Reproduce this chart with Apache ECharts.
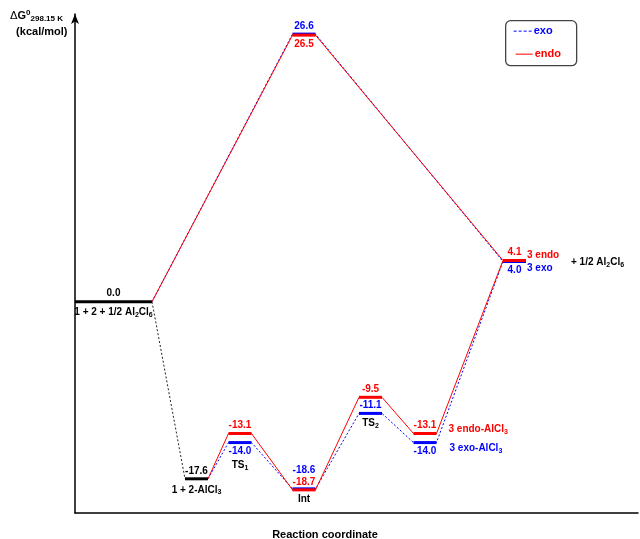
<!DOCTYPE html>
<html>
<head>
<meta charset="utf-8">
<script src="https://cdn.jsdelivr.net/npm/echarts@6/dist/echarts.min.js"></script>
<style>
  html, body { margin: 0; padding: 0; background: #ffffff; }
  #chart { width: 640px; height: 539px; }
</style>
</head>
<body>
<div id="chart"></div>
<script>
// Stationary points along the reaction coordinate (position of each level's centre)
const stageIds = ['reactants', 'complex', 'ts1', 'int', 'ts2', 'prodComplex', 'products', 'tsUncat'];
const stageX   = [7.7, 24.3, 33.0, 45.8, 59.1, 70.0, 87.9, 45.8];

// Relative free energies, kcal/mol
const sharedStages = ['reactants', 'complex'];
const sharedEnergy = [0.0, -17.6];

const uncatStages = ['reactants', 'tsUncat', 'products'];
const endoUncat   = [0.0, 26.5, 4.1];
const exoUncat    = [0.0, 26.6, 4.0];

const catStages = ['complex', 'ts1', 'int', 'ts2', 'prodComplex', 'products'];
const endoCat   = [-17.6, -13.1, -18.7, -9.5, -13.1, 4.1];
const exoCat    = [-17.6, -14.0, -18.6, -11.1, -14.0, 4.0];

// Species names ({s|..} marks a subscript)
const captionStages = ['reactants', 'complex', 'ts1', 'int', 'ts2'];
const captionText   = ['1 + 2 + 1/2 Al{s|2}Cl{s|6}', '1 + 2-AlCl{s|3}', 'TS{s|1}', 'Int', 'TS{s|2}'];
const endoNames = { prodComplex: '3 endo-AlCl{s|3}', products: '3 endo' };
const exoNames  = { prodComplex: '3 exo-AlCl{s|3}', products: '3 exo' };
const byproductText = '+ 1/2 Al{s|2}Cl{s|6}';
const keyNames = ['exo', 'endo'];

// ---- styling ----
const FONT = 'Liberation Sans, Arial, Helvetica, sans-serif';
const RED = '#ff0000', BLUE = '#0000ff', BLACK = '#000000';
const halfWidth = { reactants: 7.7, default: 2.3 };
const richSub = (size) => ({
  s: { fontSize: size - 3, fontWeight: 'bold', fontFamily: FONT, padding: [5, 0, 0, 0] }
});

// value label offsets (px from the bar; negative = above, positive = below)
const endoValueDy = { tsUncat: 4 };
const exoValueDy  = { tsUncat: -3, ts1: 4, int: -14, prodComplex: 4, products: 4 };
// name labels placed to the right of the bar
const endoNameOffset = { prodComplex: [12, -4], products: [1, -5] };
const exoNameOffset  = { prodComplex: [13, 6], products: [1, 7] };
// captions below the lowest bar of a stage
const captionDy = { reactants: 5, complex: 5, ts1: 17, int: 4, ts2: 4 };

const idx = (s) => stageIds.indexOf(s);
const hw = (s) => halfWidth[s] || halfWidth.default;

// Points of a free-energy profile: the connector runs from the end of one
// level to the start of the next.
function profile(stages, energies) {
  const pts = [];
  stages.forEach((s, i) => {
    const x = stageX[idx(s)];
    if (i > 0) pts.push([x - hw(s), energies[i]]);
    if (i < stages.length - 1) pts.push([x + hw(s), energies[i]]);
  });
  return pts;
}

function connector(name, color, type, stages, energies) {
  return {
    type: 'line', name, data: profile(stages, energies),
    symbol: 'none', smooth: false, silent: true, animation: false, z: 2,
    lineStyle: { color, width: 1, type },
    itemStyle: { color }
  };
}

function levelSeries(name, color, stages, energies, valueDy, names, nameOffset, extra) {
  return {
    type: 'custom', name: name + ' levels', silent: true, animation: false, z: 5,
    data: stages.map((s, i) => [stageX[idx(s)], energies[i], idx(s)]),
    renderItem(params, api) {
      const x = api.value(0), v = api.value(1), id = stageIds[api.value(2)];
      const p0 = api.coord([x - hw(id), v]);
      const p1 = api.coord([x + hw(id), v]);
      const dy = valueDy[id] !== undefined ? valueDy[id] : -3;
      const children = [
        { type: 'line', shape: { x1: p0[0], y1: p0[1], x2: p1[0], y2: p1[1] },
          style: { stroke: color, lineWidth: 3 } },
        { type: 'text', x: (p0[0] + p1[0]) / 2, y: p0[1] + dy,
          style: { text: v.toFixed(1), fill: color, fontSize: 10, fontWeight: 'bold',
                   fontFamily: FONT, align: 'center', verticalAlign: dy < 0 ? 'bottom' : 'top' } }
      ];
      if (names && names[id]) {
        const off = nameOffset[id];
        children.push({ type: 'text', x: p1[0] + off[0], y: p1[1] + off[1],
          style: { text: names[id], fill: color, fontSize: 10, fontWeight: 'bold',
                   fontFamily: FONT, align: 'left', verticalAlign: 'middle', rich: richSub(10) } });
      }
      if (extra) extra(id, p0, p1, children);
      return { type: 'group', children };
    }
  };
}

// Captions sit under the lowest level of their stage
const allLevels = {};
[[sharedStages, sharedEnergy], [uncatStages, endoUncat], [uncatStages, exoUncat],
 [catStages, endoCat], [catStages, exoCat]].forEach(([st, en]) => {
  st.forEach((s, i) => {
    allLevels[s] = allLevels[s] === undefined ? en[i] : Math.min(allLevels[s], en[i]);
  });
});

const captionSeries = {
  type: 'custom', name: 'captions', silent: true, animation: false, z: 6,
  data: captionStages.map((s, i) => [stageX[idx(s)], allLevels[s], i]),
  renderItem(params, api) {
    const i = api.value(2);
    const s = captionStages[i];
    const p = api.coord([api.value(0), api.value(1)]);
    return {
      type: 'text', x: p[0], y: p[1] + captionDy[s],
      style: { text: captionText[i], fill: BLACK, fontSize: 10, fontWeight: 'bold',
               fontFamily: FONT, align: 'center', verticalAlign: 'top', rich: richSub(10) }
    };
  }
};

// Key box in the top-right corner
const keyGraphic = {
  type: 'group', left: 505, top: 20,
  children: [
    { type: 'rect', shape: { x: 0, y: 0, width: 71, height: 45, r: 5 },
      style: { fill: '#ffffff', stroke: '#444444', lineWidth: 1.3 } },
    { type: 'line', shape: { x1: 8, y1: 10.5, x2: 27, y2: 10.5 },
      style: { stroke: BLUE, lineWidth: 1, lineDash: [3, 2] } },
    { type: 'text', x: 28, y: 10,
      style: { text: keyNames[0], fill: BLUE, fontSize: 11, fontWeight: 'bold', fontFamily: FONT,
               verticalAlign: 'middle' } },
    { type: 'line', shape: { x1: 10, y1: 33.5, x2: 27, y2: 33.5 },
      style: { stroke: RED, lineWidth: 1 } },
    { type: 'text', x: 29, y: 33,
      style: { text: keyNames[1], fill: RED, fontSize: 11, fontWeight: 'bold', fontFamily: FONT,
               verticalAlign: 'middle' } }
  ]
};

const chart = echarts.init(document.getElementById('chart'), null, { renderer: 'canvas' });

chart.setOption({
  backgroundColor: '#ffffff',
  animation: false,
  grid: { left: 75, right: 2, top: 14, bottom: 26 },
  xAxis: {
    type: 'value', min: 0, max: 112.6,
    axisLine: { show: true, onZero: false, lineStyle: { color: BLACK, width: 1.5 } },
    axisTick: { show: false }, axisLabel: { show: false }, splitLine: { show: false }
  },
  yAxis: {
    type: 'value', min: -21, max: 28.6,
    axisLine: { show: true, onZero: false, symbol: ['none', 'arrow'], symbolSize: [6, 10],
                lineStyle: { color: BLACK, width: 1.5 } },
    axisTick: { show: false }, axisLabel: { show: false }, splitLine: { show: false }
  },
  graphic: [
    {
      type: 'text', left: 10, top: 9,
      style: {
        text: '{d|\u0394}{g|G}{sup|0}{sub|298.15 K}\n{g|  (kcal/mol)}',
        fill: BLACK,
        rich: {
          d: { fontSize: 11, fontFamily: 'DejaVu Sans, sans-serif', lineHeight: 16 },
          g: { fontSize: 11, fontWeight: 'bold', fontFamily: FONT, lineHeight: 16 },
          sup: { fontSize: 8, fontWeight: 'bold', fontFamily: FONT, padding: [0, 0, 6, 0] },
          sub: { fontSize: 8, fontWeight: 'bold', fontFamily: FONT, padding: [6, 0, 0, 0] }
        }
      }
    },
    {
      type: 'text', x: 325, y: 535,
      style: { text: 'Reaction coordinate', fill: BLACK, fontSize: 11, fontWeight: 'bold',
               fontFamily: FONT, align: 'center', verticalAlign: 'middle' }
    },
    keyGraphic
  ],
  series: [
    connector('exo', BLUE, [2, 2], uncatStages, exoUncat),
    connector('exo', BLUE, [2, 2], catStages, exoCat),
    connector('endo', RED, 'solid', uncatStages, endoUncat),
    connector('endo', RED, 'solid', catStages, endoCat),
    connector('reactant complexation', '#222222', [2, 2], sharedStages, sharedEnergy),
    levelSeries('shared', BLACK, sharedStages, sharedEnergy, {}, null, null),
    levelSeries('exo', BLUE,
      ['tsUncat', 'ts1', 'int', 'ts2', 'prodComplex', 'products'],
      [exoUncat[1], exoCat[1], exoCat[2], exoCat[3], exoCat[4], exoCat[5]],
      exoValueDy, exoNames, exoNameOffset),
    levelSeries('endo', RED,
      ['tsUncat', 'ts1', 'int', 'ts2', 'prodComplex', 'products'],
      [endoUncat[1], endoCat[1], endoCat[2], endoCat[3], endoCat[4], endoCat[5]],
      endoValueDy, endoNames, endoNameOffset,
      (id, p0, p1, children) => {
        if (id === 'products') {
          children.push({ type: 'text', x: p1[0] + 45, y: p1[1] + 2,
            style: { text: byproductText, fill: BLACK, fontSize: 10, fontWeight: 'bold',
                     fontFamily: FONT, align: 'left', verticalAlign: 'middle', rich: richSub(10) } });
        }
      }),
    captionSeries
  ]
});
</script>
</body>
</html>
